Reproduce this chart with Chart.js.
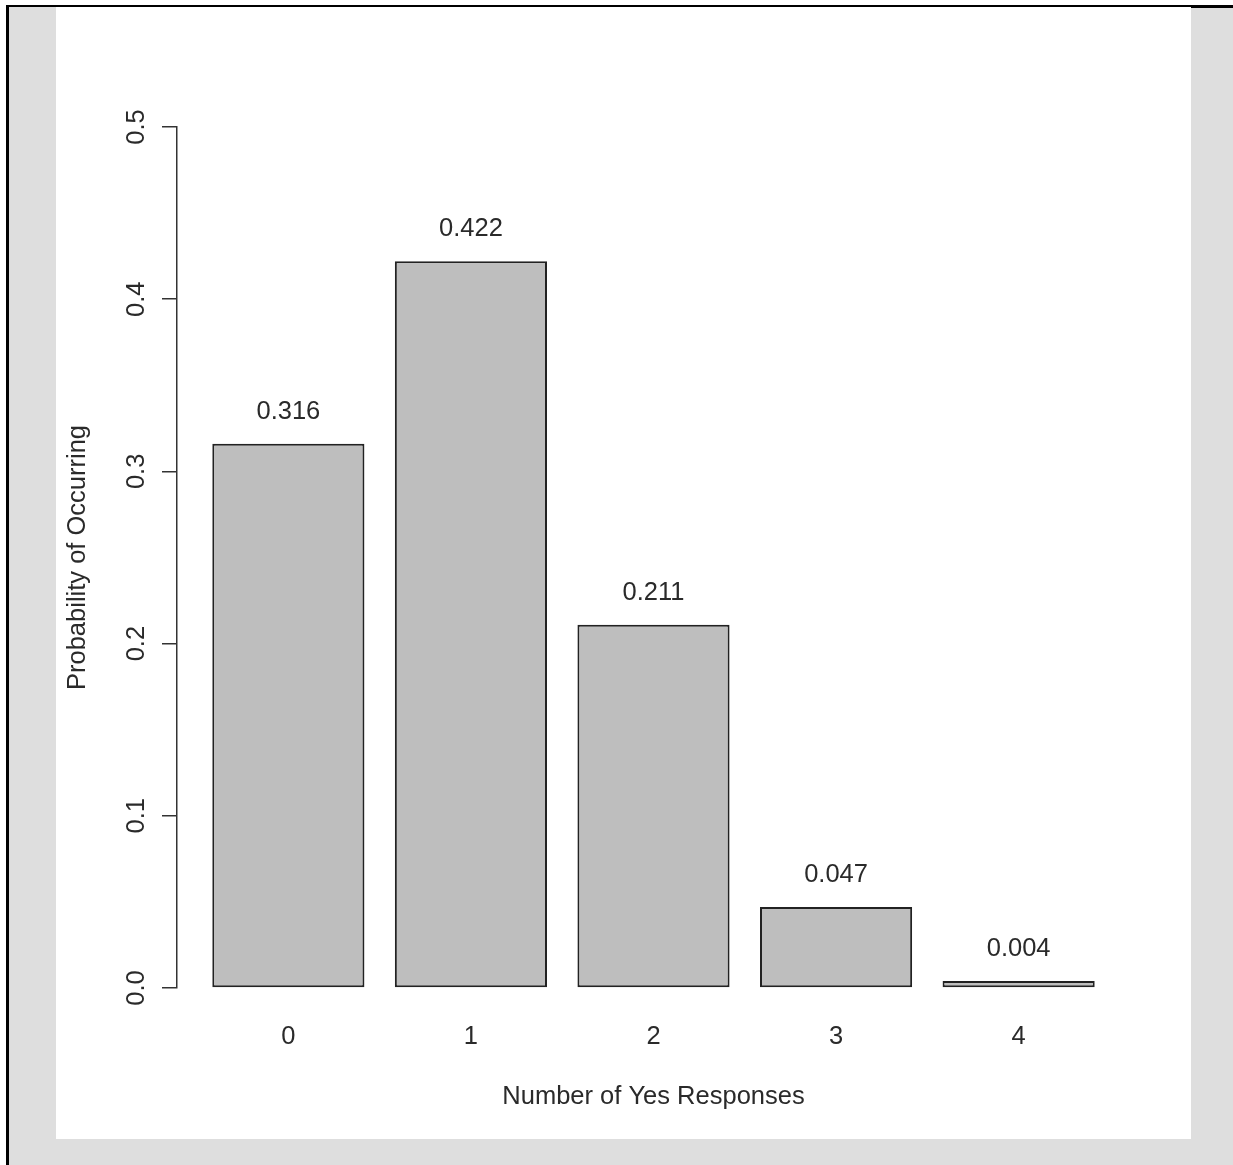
<!DOCTYPE html>
<html>
<head>
<meta charset="utf-8">
<script src="https://cdn.jsdelivr.net/npm/chart.js@4/dist/chart.umd.min.js"></script>
<style>
  html, body { margin: 0; padding: 0; background: #ffffff; }
  #frame { position: absolute; left: 6px; top: 5px; width: 1227px; height: 1160px;
           border-left: 3px solid #000; border-top: 2px solid #000; background: #dedede; box-sizing: border-box; }
  #edge { position: absolute; left: 1191px; top: 7px; width: 42px; height: 1px; background: #000; }
  #panel { position: absolute; left: 56px; top: 7px; width: 1135px; height: 1132px; background: #ffffff; }
  canvas { display: block; }
</style>
</head>
<body>
<div id="frame"></div>
<div id="edge"></div>
<div id="panel"><canvas id="c" width="1135" height="1132"></canvas></div>
<script>
// ---- data ----
const categories = ['0', '1', '2', '3', '4'];
const probabilities = [0.316, 0.422, 0.211, 0.047, 0.004];
const valueLabels = ['0.316', '0.422', '0.211', '0.047', '0.004'];
const yTickValues = [0, 0.1, 0.2, 0.3, 0.4, 0.5];
const xTitle = 'Number of Yes Responses';
const yTitle = 'Probability of Occurring';

// R barplot layout: bar width 1, space 0.2
const BAR_SPACE = 0.2, BAR_W = 1;
const centers = categories.map((c, i) => BAR_SPACE + BAR_W / 2 + i * (BAR_W + BAR_SPACE));
const xLeft = BAR_SPACE, xRight = categories.length * (BAR_W + BAR_SPACE);
const xPad = (xRight - xLeft) * 0.04;

const FONT = { family: '"Liberation Sans", Arial, sans-serif', size: 25.5 };
const TEXT = '#2a2a2a';
const INK = '#333333';

const barLabels = {
  id: 'barLabels',
  afterDatasetsDraw(chart) {
    const ctx = chart.ctx;
    const meta = chart.getDatasetMeta(0);
    ctx.save();
    ctx.font = `${FONT.size}px ${FONT.family}`;
    ctx.fillStyle = TEXT;
    ctx.textAlign = 'center';
    ctx.textBaseline = 'middle';
    meta.data.forEach((bar, i) => {
      ctx.fillText(valueLabels[i], bar.x, bar.y - 32);
    });
    ctx.restore();
  }
};

new Chart(document.getElementById('c'), {
  type: 'bar',
  data: {
    datasets: [{
      data: categories.map((c, i) => ({ x: centers[i], y: probabilities[i] })),
      backgroundColor: '#bebebe',
      borderColor: '#222222',
      borderWidth: 2,
      borderSkipped: false,
      categoryPercentage: 1,
      barPercentage: BAR_W / (BAR_W + BAR_SPACE)
    }]
  },
  options: {
    responsive: false,
    animation: false,
    devicePixelRatio: 1,
    layout: { padding: { left: 0, right: 61, top: 120, bottom: 0 } },
    plugins: { legend: { display: false }, tooltip: { enabled: false } },
    scales: {
      x: {
        type: 'linear',
        offset: false,
        bounds: 'ticks',
        min: xLeft - xPad,
        max: xRight + xPad,
        afterBuildTicks: (scale) => { scale.ticks = centers.map(v => ({ value: v })); },
        afterFit: (scale) => { scale.height = 151; },
        grid: { display: false, drawTicks: false, offset: false },
        border: { display: false },
        ticks: {
          autoSkip: false,
          maxRotation: 0,
          padding: 34,
          color: TEXT,
          font: FONT,
          callback: (v, i) => categories[i]
        },
        title: { display: true, text: xTitle, color: TEXT, font: FONT, padding: { top: 0, bottom: 27 } }
      },
      y: {
        min: 0,
        max: 0.5,
        afterBuildTicks: (scale) => { scale.ticks = yTickValues.map(v => ({ value: v })); },
        afterFit: (scale) => { scale.width = 121; },
        grid: { drawOnChartArea: false, drawTicks: true, tickLength: 15, color: INK, lineWidth: 1.5 },
        border: { display: true, color: INK, width: 1.5 },
        ticks: {
          minRotation: 90,
          maxRotation: 90,
          crossAlign: 'center',
          padding: 7,
          color: TEXT,
          font: FONT,
          callback: (v) => Number(v).toFixed(1)
        },
        title: { display: true, text: yTitle, color: TEXT, font: FONT, padding: { top: 7, bottom: 0 } }
      }
    }
  },
  plugins: [barLabels]
});
</script>
</body>
</html>
